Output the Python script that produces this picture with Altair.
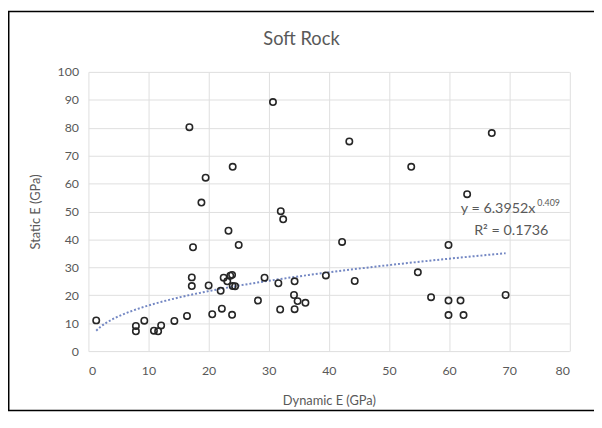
import altair as alt
import pandas as pd

# ---- data ----
dynamic_e = [1.3, 7.9, 7.9, 9.3, 10.9, 11.6, 12.1, 14.3, 16.4, 16.8,
             17.2, 17.2, 17.4, 18.8, 19.5, 20.0, 20.6, 22.0, 22.2, 22.5,
             23.1, 23.3, 23.6, 23.9, 24.0, 23.9, 24.0, 24.4, 25.0, 28.2,
             29.3, 30.7, 31.6, 31.9, 32.0, 32.4, 34.3, 34.2, 34.3, 34.8,
             36.1, 39.5, 42.2, 43.4, 44.3, 53.7, 54.8, 57.0, 59.9, 59.9,
             59.9, 61.9, 62.4, 63.0, 67.1, 69.4]
static_e = [11.0, 9.0, 7.1, 10.9, 7.3, 7.1, 9.2, 10.8, 12.6, 80.2,
            26.4, 23.3, 37.2, 53.2, 62.1, 23.5, 13.2, 21.6, 15.2, 26.3,
            25.0, 43.1, 27.0, 27.3, 66.0, 13.0, 23.3, 23.2, 38.0, 18.1,
            26.3, 89.2, 24.3, 14.9, 50.1, 47.2, 25.0, 20.1, 15.0, 17.9,
            17.3, 27.1, 39.1, 75.1, 25.1, 66.0, 28.2, 19.3, 38.0, 18.1,
            12.9, 18.1, 12.9, 56.2, 78.1, 20.1]

x_ticks = [0, 10, 20, 30, 40, 50, 60, 70, 80]
y_ticks = [0, 10, 20, 30, 40, 50, 60, 70, 80, 90, 100]

chart_title = ["Soft Rock"]
eq_main = ["y = 6.3952x"]
eq_exp = ["0.409"]
eq_r2 = ["R² = 0.1736"]

x_title = "Dynamic E (GPa)"
y_title = "Static E (GPa)"

# ---- styling ----
FONT = "Lato"
GRAY = "#595959"
W, H = 487.5, 283

df = pd.DataFrame({"x": dynamic_e, "y": static_e})

xs = alt.Scale(domain=[0, 80], nice=False, zero=False)
ys = alt.Scale(domain=[0, 100], nice=False, zero=False)

x_axis = alt.Axis(values=x_ticks, title=x_title, labelPadding=14, titlePadding=18)
y_axis = alt.Axis(values=y_ticks, title=y_title, labelPadding=10, titlePadding=15)

base = alt.Chart(df)

points = base.mark_point(shape="circle", filled=False, stroke="#262626",
                         strokeWidth=1.6, size=42, opacity=1).encode(
    x=alt.X("x:Q", scale=xs, axis=x_axis),
    y=alt.Y("y:Q", scale=ys, axis=y_axis),
)

trend = base.transform_regression("x", "y", method="pow").mark_line(
    color="#5a72b8", strokeWidth=2, strokeDash=[2, 2], opacity=0.85
).encode(
    x=alt.X("x:Q", scale=xs, axis=x_axis),
    y=alt.Y("y:Q", scale=ys, axis=y_axis),
)

eq1 = alt.Chart(pd.DataFrame({"t": eq_main})).mark_text(
    align="left", baseline="middle", font=FONT, fontSize=14.5, color=GRAY
).encode(text="t:N", x=alt.value(377.5), y=alt.value(139))

eq2 = alt.Chart(pd.DataFrame({"t": eq_exp})).mark_text(
    align="left", baseline="middle", font=FONT, fontSize=9, color=GRAY
).encode(text="t:N", x=alt.value(455), y=alt.value(133))

eq3 = alt.Chart(pd.DataFrame({"t": eq_r2})).mark_text(
    align="left", baseline="middle", font=FONT, fontSize=14.5, color=GRAY
).encode(text="t:N", x=alt.value(391), y=alt.value(161))

title = alt.Chart(pd.DataFrame({"t": chart_title})).mark_text(
    align="center", baseline="middle", font=FONT, fontSize=18.5, color=GRAY
).encode(text="t:N", x=alt.value(216), y=alt.value(-33))

border = alt.Chart(pd.DataFrame({"t": chart_title})).mark_rect(
    fill="white", fillOpacity=0, stroke="#000000", strokeWidth=1.5
).encode(x=alt.value(-80.75), x2=alt.value(520), y=alt.value(-61.25), y2=alt.value(H + 60.25))

chart = alt.layer(border, trend, points, eq1, eq2, eq3, title).properties(
    width=W, height=H,
    autosize=alt.AutoSizeParams(type="none"),
    padding={"left": 81.5, "top": 62, "right": 25, "bottom": 61},
    background="white",
).configure_view(stroke=None).configure_axis(
    labelFont=FONT, labelFontSize=12.5, labelColor=GRAY,
    titleFont=FONT, titleFontSize=13, titleColor=GRAY, titleFontWeight="normal",
    domain=False, ticks=False, grid=True, gridColor="#dedede", gridWidth=1,
)

chart.save("out.html", embed_options={"renderer": "svg", "actions": False})
